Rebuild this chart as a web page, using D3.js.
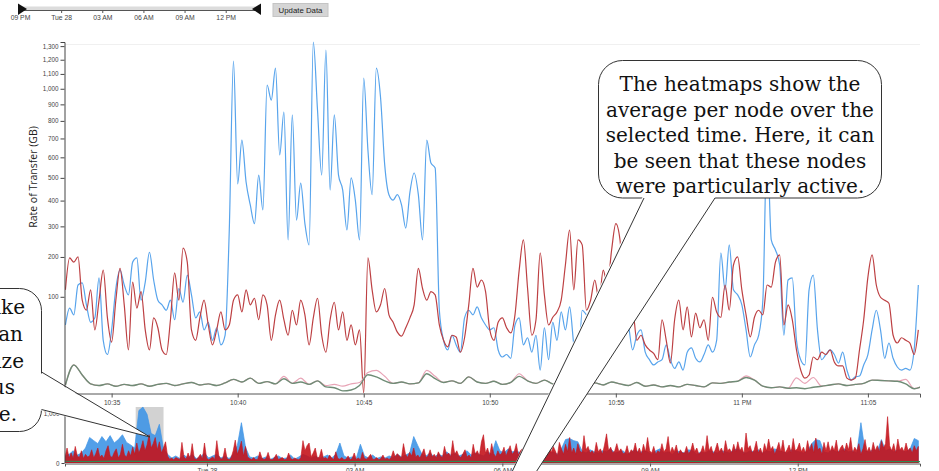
<!DOCTYPE html>
<html><head><meta charset="utf-8">
<script src="https://cdn.jsdelivr.net/npm/d3@7"></script>
<style>
body{margin:0;background:#fff;}
svg{display:block;font-family:"Liberation Sans",Arial,sans-serif;}
.tick text{fill:#444;}
</style></head><body>
<svg id="chart" width="939" height="471"></svg>
<script>
// ---------------- DATA ----------------
// main (focus) chart: samples every 10 s starting 22:33:10, Mon 27
const mainStart = new Date(2015,3,27,22,33,10);
const mainStepSec = 10;
const blueVals = [
50,78,66,126,131,84,54,61,143,30,
16,43,118,163,126,104,185,197,93,133,
214,138,93,84,74,93,58,118,89,150,
104,61,71,43,54,30,46,25,36,287,
1190,472,691,481,382,310,513,362,1025,927,
1140,612,853,253,836,323,476,310,237,1330,
865,513,1271,445,836,513,445,287,500,402,
253,1072,638,425,1140,945,561,425,402,425,
382,294,436,523,425,253,691,571,547,74,
30,20,36,25,18,61,74,66,80,61,
50,43,46,20,14,16,13,50,61,25,
33,18,36,5.7,46,12,54,30,71,43,
80,25,4.8,74,66,58,50,30,58,36,
66,25,43,74,50,20,36,43,18,12,
8.5,10.4,12,25,12,6.5,10.4,5.7,18,22,
13,10.4,16,25,18,30,212,115,237,115,
104,84,43,14,25,36,93,691,253,221,
177,36,138,143,30,12,8.5,115,150,43,
12,16,20,16,9.7,18,5.7,1.8,2.8,3.1,
8.5,16,43,74,43,13,27,13,7.3,5.7,
6.5,5.7,20,126];
const redVals = [
115,197,185,200,93,74,115,43,93,163,
61,28,93,168,84,20,133,78,111,43,
20,61,46,20,16,58,156,93,227,185,
43,30,61,93,50,25,43,71,43,50,
93,104,71,115,84,97,58,104,84,30,
66,93,58,36,74,50,93,66,25,61,
97,36,18,58,89,43,71,30,50,25,
43,0,197,115,71,84,118,66,54,40,
35,46,61,84,168,118,93,111,104,50,
30,23,36,34,18,33,84,168,121,138,
111,43,30,54,61,46,39,66,163,253,
118,36,58,212,104,50,62,71,93,177,
287,115,253,237,74,93,138,93,163,126,
221,310,253,93,58,74,30,36,25,20,
17,12,58,30,9.7,58,93,43,80,34,
69,46,58,30,99,71,62,126,74,177,
200,115,66,34,62,74,66,126,121,185,
206,50,84,58,20,5.7,2.4,3.5,14,12,
18,16,20,10.4,7.9,7.9,2.4,1.8,2.4,20,
58,145,206,126,99,93,87,36,27,33,
30,27,16,43];
// low series: samples every 20 s
const lowStepSec = 20;
const greenVals = [
0.7,8.5,3.5,0.9,0.6,0.9,0.5,0.8,0.6,0.9,
0.5,0.8,1.0,0.6,0.9,1.2,0.7,0.9,0.6,1.1,
2.0,1.3,2.4,1.0,1.4,0.9,2.2,1.0,1.3,0.8,
1.6,0.4,0.3,0.05,0.1,0.6,3.6,2.8,1.6,1.0,
1.3,0.9,1.1,4.0,2.2,1.2,1.6,1.0,2.8,1.3,
1.0,1.5,0.8,1.2,3.0,1.6,1.0,1.8,0.9,0.7,
1.0,0.6,0.8,1.1,0.7,1.3,0.9,0.6,1.2,0.5,
0.7,0.4,0.6,0.4,0.8,0.6,0.4,1.1,1.0,1.3,
1.5,2.6,1.8,0.5,0.3,0.4,0.25,0.3,0.2,0.35,
0.5,0.7,0.9,0.6,0.8,1.0,1.8,1.7,1.6,1.5,
0.9,0.2,0.5];
const pinkVals = [
0.7,8.5,3.5,0.9,0.6,0.9,0.5,0.8,0.6,0.9,
0.5,0.8,1.0,0.6,0.9,1.2,0.7,0.9,0.6,1.1,
2.0,1.3,2.4,1.0,1.4,0.9,3.0,1.0,2.4,0.8,
1.6,0.6,0.8,0.5,0.9,1.2,4.5,5.5,3.0,1.0,
1.3,0.9,1.1,5.5,3.0,1.2,1.6,1.0,2.8,1.3,
1.0,1.5,0.8,1.2,4.0,1.6,1.0,1.8,0.9,0.7,
1.0,0.6,0.8,1.1,0.7,1.3,0.9,0.6,1.2,0.5,
0.7,0.4,0.6,0.4,0.8,0.6,0.4,1.1,1.0,1.3,
1.5,3.2,1.8,0.5,0.3,0.4,0.25,2.5,1.0,2.6,
0.5,0.7,0.9,0.6,0.8,1.0,1.8,1.7,1.6,1.5,
2.0,0.2,0.5];
// overview (context) chart, starting 21:07
const miniStart = new Date(2015,3,27,21,7);
const miniRedStepMin = 2.5;
const miniRed = [
15,90,10,40,8,110,20,12,60,8,30,15,
20,70,10,35,90,15,25,8,60,120,20,12,45,80,10,30,140,25,15,60,20,100,30,
160,40,90,200,60,130,320,90,150,260,70,180,40,90,
180,20,6,10,4,12,8,5,170,15,6,40,8,150,10,5,12,30,6,160,10,4,8,15,5,200,20,6,10,90,8,4,12,60,
210,30,80,190,20,110,15,
8,5,12,4,6,50,10,5,8,45,6,4,10,30,5,8,12,4,6,40,8,5,10,6,4,12,
200,60,120,160,15,40,
90,10,15,75,8,12,6,25,10,5,50,8,6,12,4,
6,20,4,8,40,5,10,4,45,8,6,15,30,5,6,12,4,8,25,6,10,5,12,60,
15,35,20,10,150,30,12,45,20,90,15,25,10,35,80,12,20,70,15,30,
10,50,20,12,110,25,40,15,200,30,60,20,12,35,70,15,25,10,140,30,
60,20,180,320,40,90,20,150,35,15,60,25,
40,100,20,60,120,30,50,150,25,60,80,30,190,40,80,140,25,260,60,90,
150,30,70,300,40,110,60,20,170,
80,30,140,50,260,40,90,30,150,60,
40,300,70,110,40,60,30,170,50,80,
30,130,340,60,100,40,60,150,50,80,
35,40,120,30,70,50,160,40,90,30,
140,50,260,60,40,110,30,60,45,150,
50,80,280,40,100,50,130,30,70,40,
40,110,35,60,160,50,90,30,50,120,
40,300,60,110,30,70,160,50,90,30,
200,60,80,40,140,50,180,60,100,30,
360,80,120,40,70,190,40,90,30,150,
60,230,70,110,30,80,170,50,210,40,
70,130,40,240,60,80,160,50,100,40,
200,60,150,40,250,70,90,30,170,60,
180,50,120,60,210,40,90,130,50,160,
70,260,40,100,60,150,30,80,220,50,
100,40,170,60,120,50,200,90,150,860,
120,60,150,40,230,70,100,50,160,60,
90,40,120,60,110];
const miniBlueStepMin = 5;
const miniBlue = [
20,30,60,25,40,90,260,200,150,280,
180,300,160,220,320,170,130,90,1100,1250,
950,350,300,600,80,30,10,20,8,25,
10,30,8,15,40,10,20,30,10,20,
8,30,120,650,100,15,10,20,8,15,
5,12,20,8,10,25,6,15,30,20,
10,20,8,15,25,10,30,160,20,10,
15,8,140,20,10,25,8,15,10,20,
12,30,15,25,40,280,120,30,20,40,
15,30,20,50,25,40,20,30,60,25,
40,30,20,50,30,200,60,40,80,50,
60,40,30,60,40,50,30,60,40,50,
30,80,220,240,200,180,60,40,70,50,
40,60,50,80,40,50,60,30,50,70,
40,60,50,30,60,80,40,50,30,60,
50,40,70,60,30,50,40,60,50,40,
60,50,40,70,80,50,40,60,50,70,
40,60,50,80,60,50,40,70,60,50,
40,60,150,220,200,50,40,70,50,60,
80,50,60,40,650,60,50,70,60,220,
60,80,50,70,60,50,80,240,200];
const miniGreenStepMin = 30;
const miniGreen = [1.2,0.8,1.5,1.0,0.6,0.9,0.7,1.1,0.5,0.8,0.6,0.9,0.7,1.0,0.6,0.8,1.2,0.7,
0.9,1.1,0.8,0.6,1.0,0.7,0.9,1.3,0.8,0.6,1.0,0.7,0.9,1.1,0.8,1.0,0.7,0.9];
const yTickValues = [100,200,300,400,500,600,700,800,900,1000,1100,1200,1300];
const miniYTickValues = [0,1000];
const yTitle = "Rate of Transfer (GB)";
const buttonLabel = "Update Data";
const calloutRight = ["The heatmaps show the","average per node over the","selected time. Here, it can","be seen that these nodes","were particularly active."];
const calloutLeft = ["Brush the overview like","this to select a time span. You can","also drag the brush or resize","it to focus","on another time range."];

// ---------------- DRAW ----------------
const svg = d3.select("#chart");
const mainDomain = [new Date(2015,3,27,22,33,9), new Date(2015,3,27,23,7,4)];
const x = d3.scaleTime().domain(mainDomain).range([65,920]);
const y = d3.scaleSqrt().domain([0,1331]).range([393,42]);
const tMain = i => new Date(mainStart.getTime() + i*mainStepSec*1000);
const tLow = i => new Date(mainStart.getTime() + i*lowStepSec*1000);

const miniDomain = [new Date(2015,3,27,21,7), new Date(2015,3,28,14,29)];
const mx = d3.scaleTime().domain(miniDomain).range([65,920]);
const my = d3.scaleSqrt().domain([0,1000]).range([463,413]);
const tMiniR = i => new Date(miniStart.getTime() + i*miniRedStepMin*60000);
const tMiniB = i => new Date(miniStart.getTime() + i*miniBlueStepMin*60000);
const tMiniG = i => new Date(miniStart.getTime() + i*miniGreenStepMin*60000);

const defs = svg.append("defs");
defs.append("clipPath").attr("id","clipMain").append("rect")
  .attr("x",65).attr("y",40).attr("width",855).attr("height",353);
defs.append("clipPath").attr("id","clipMini").append("rect")
  .attr("x",65).attr("y",400).attr("width",855).attr("height",63);

// --- top timeline ---
const tl = d3.scaleTime().domain([new Date(2015,3,27,21,0), new Date(2015,3,28,14,17)]).range([20,257]);
svg.append("rect").attr("x",20).attr("y",6.5).attr("width",237).attr("height",3.5).attr("fill","#dcdcdc");
const tlAxis = svg.append("g").attr("transform","translate(0,10)")
  .call(d3.axisBottom(tl).ticks(d3.timeHour.every(3)).tickSize(3).tickPadding(2).tickSizeOuter(0));
tlAxis.select(".domain").attr("stroke","#555");
tlAxis.selectAll(".tick line").attr("stroke","#555");
tlAxis.selectAll("text").attr("font-size",6.8).attr("fill","#444");
svg.append("path").attr("d",d3.line()([[18,3.5],[27,9],[18,15]])+"Z").attr("fill","#111");
svg.append("path").attr("d",d3.line()([[261,3.5],[252,9],[261,15]])+"Z").attr("fill","#111");
svg.append("rect").attr("x",273).attr("y",3.5).attr("width",55).attr("height",13)
  .attr("fill","#d5d5d5").attr("stroke","#c4c4c4");
svg.append("text").attr("x",300.5).attr("y",12.8).attr("text-anchor","middle")
  .attr("font-size",7.8).attr("fill","#222").text(buttonLabel);

// --- main chart ---
svg.append("line").attr("x1",65).attr("x2",920).attr("y1",44.5).attr("y2",44.5).attr("stroke","#f0f0f0");
const gMain = svg.append("g").attr("clip-path","url(#clipMain)");
const lineMain = d3.line().curve(d3.curveMonotoneX).x((d,i)=>x(tMain(i))).y(d=>y(d));
const lineLow = d3.line().curve(d3.curveMonotoneX).x((d,i)=>x(tLow(i))).y(d=>y(d));
gMain.append("path").attr("d",lineMain(blueVals)).attr("fill","none").attr("stroke","#58a4ec").attr("stroke-width",1.2);
gMain.append("path").attr("d",lineMain(redVals)).attr("fill","none").attr("stroke","#bd4043").attr("stroke-width",1.2);
gMain.append("path").attr("d",lineLow(pinkVals)).attr("fill","none").attr("stroke","#e8a4b6").attr("stroke-width",1.2);
gMain.append("path").attr("d",lineLow(greenVals)).attr("fill","none").attr("stroke","#6f8c76").attr("stroke-width",1.4);

const yAxis = svg.append("g").attr("transform","translate(64.5,0)")
  .call(d3.axisLeft(y).tickValues(yTickValues).tickFormat(d3.format(",")).tickSize(4).tickPadding(2));
yAxis.select(".domain").attr("stroke","#444");
yAxis.selectAll(".tick line").attr("stroke","#444");
yAxis.selectAll("text").attr("font-size",6.3);

const xAxis = svg.append("g").attr("transform","translate(0,393.5)")
  .call(d3.axisBottom(x).ticks(d3.timeMinute.every(5)).tickSize(4).tickPadding(3));
xAxis.select(".domain").attr("stroke","#555");
xAxis.selectAll(".tick line").attr("stroke","#555");
xAxis.selectAll("text").attr("font-size",6.5);

svg.append("text").attr("transform","translate(37,177) rotate(-90)").attr("text-anchor","middle")
  .attr("font-family","'Open Sans',sans-serif").attr("font-size",10.5).attr("fill","#222").text(yTitle);

// --- mini (overview) chart ---
svg.append("rect").attr("x",mx(mainDomain[0])).attr("y",407)
  .attr("width",mx(mainDomain[1])-mx(mainDomain[0])).attr("height",56).attr("fill","#d2d2d2");
const gMini = svg.append("g").attr("clip-path","url(#clipMini)");
gMini.append("path").attr("d",d3.area().x((d,i)=>mx(tMiniB(i))).y0(463).y1(d=>my(d))(miniBlue))
  .attr("fill","#3f95e6").attr("fill-opacity",0.9).attr("stroke","#3f95e6").attr("stroke-width",0.7);
gMini.append("path").attr("d",d3.area().x((d,i)=>mx(tMiniR(i))).y0(463).y1(d=>my(d))(miniRed))
  .attr("fill","#c4141c").attr("fill-opacity",0.9).attr("stroke","#c4141c").attr("stroke-width",0.6);
gMini.append("path").attr("d",d3.line().x((d,i)=>mx(tMiniG(i))).y(d=>my(d))(miniGreen))
  .attr("fill","none").attr("stroke","#2f8a55").attr("stroke-width",1.2);

const myAxis = svg.append("g").attr("transform","translate(64.5,0)")
  .call(d3.axisLeft(my).tickValues(miniYTickValues).tickFormat(d3.format(",")).tickSize(3).tickPadding(2).tickSizeOuter(0));
myAxis.select(".domain").attr("stroke","#444");
myAxis.selectAll(".tick line").attr("stroke","#444");
myAxis.selectAll("text").attr("font-size",6.3);
const mxAxis = svg.append("g").attr("transform","translate(0,463.5)")
  .call(d3.axisBottom(mx).ticks(d3.timeHour.every(3)).tickSize(3).tickPadding(1.5));
mxAxis.select(".domain").attr("stroke","#555");
mxAxis.selectAll(".tick line").attr("stroke","#555");
mxAxis.selectAll("text").attr("font-size",6.5);

// --- callouts ---
const serif = "'DejaVu Serif',Georgia,serif";
svg.append("rect").attr("x",598.5).attr("y",60.5).attr("width",283).attr("height",137.5).attr("rx",24)
  .attr("fill","#fff").attr("stroke","#333");
svg.append("path").attr("d","M643,196 L716,196 L444,613 Z").attr("fill","#fff");
svg.append("path").attr("d","M644,198 L444,613 M715,198 L444,613").attr("stroke","#333").attr("fill","none");
svg.append("g").selectAll("text").data(calloutRight).join("text")
  .attr("x",740).attr("y",(d,i)=>91+i*25.5).attr("text-anchor","middle")
  .attr("font-family",serif).attr("font-size",20).attr("fill","#111").text(d=>d);
svg.append("rect").attr("x",-250).attr("y",288.5).attr("width",291.5).attr("height",143).attr("rx",22)
  .attr("fill","#fff").attr("stroke","#333");
svg.append("path").attr("d","M39,372 L150,437 L39,410 Z").attr("fill","#fff");
svg.append("path").attr("d","M41.5,372 L150,437 L41.5,409.5").attr("stroke","#333").attr("fill","none");
const leftEnds = [25,23,24,15,17];
svg.append("g").selectAll("text").data(calloutLeft).join("text")
  .attr("x",(d,i)=>leftEnds[i]).attr("y",(d,i)=>314+i*26.8).attr("text-anchor","end")
  .attr("font-family",serif).attr("font-size",20).attr("fill","#111").text(d=>d);
</script></body></html>
